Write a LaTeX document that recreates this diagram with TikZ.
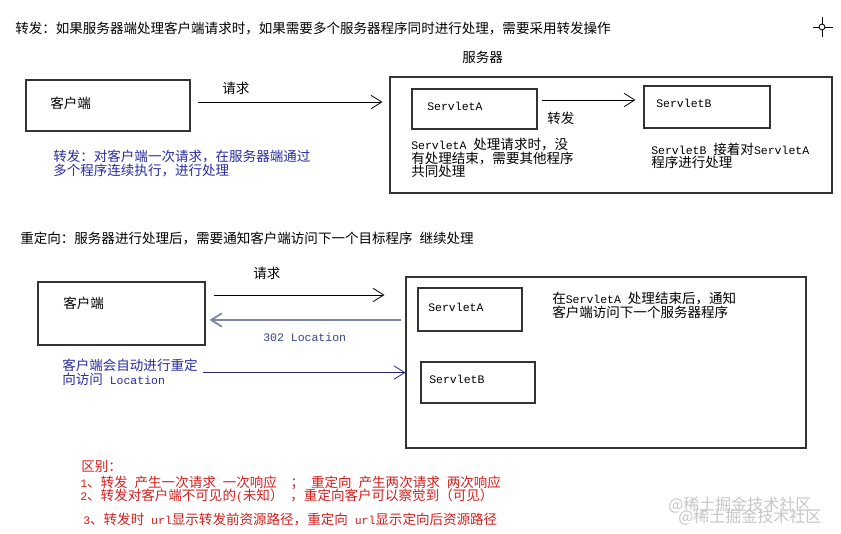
\documentclass[tikz,border=0pt]{standalone}
\usepackage{fontspec}
\setmainfont{Noto Sans CJK SC}
\newfontfamily\monofont[Scale=0.85]{Liberation Mono}
\newcommand{\mtxt}[1]{{\monofont #1}}
\usetikzlibrary{arrows.meta,positioning}
\definecolor{noteblue}{RGB}{40,45,160}
\definecolor{locblue}{RGB}{50,70,130}
\definecolor{backgray}{RGB}{125,135,165}
\definecolor{redirnavy}{RGB}{40,40,120}
\definecolor{diffred}{RGB}{215,30,30}

\begin{document}
\begin{tikzpicture}[
    x=0.75pt, y=-0.75pt,
    every node/.style={font=\fontsize{10.15pt}{10.5pt}\selectfont, inner sep=0pt},
    box/.style n args={2}{draw=black!80, line width=0.8pt, fill=white, minimum width=#1*0.75pt, minimum height=#2*0.75pt},
    txt/.style={anchor=west},
    para/.style={anchor=north west, align=left},
    note/.style={para, text=noteblue},
    diff/.style={txt, text=diffred},
    watermark/.style={txt, text=black!22, font=\fontsize{12pt}{14pt}\selectfont},
    flow/.style={-{Straight Barb[length=8pt,width=10pt]}, line width=0.6pt},
    back/.style={flow, draw=backgray, line width=1.3pt},
    redir/.style={flow, draw=redirnavy}
]
\path[use as bounding box, fill=white] (0,0) rectangle (841,534);

\node[txt] (title1) at (15,28) {转发：如果服务器端处理客户端请求时，如果需要多个服务器程序同时进行处理，需要采用转发操作};
\draw[line width=0.6pt] (813,27) -- (833,27) (822,17) -- (822,37);
\draw[line width=0.6pt, fill=white] (822,27) circle (2.2pt);

\node[box={164}{51}] (client1) at (108,105.5) {};
\node[txt] (client1lbl) at (50,103) {客户端};
\node[txt] (server1lbl) at (462,57) {服务器};
\node[box={442}{116}] (server1) at (611,135) {};
\node[box={125}{40}] (srvA1) at (474.5,109) {};
\node[txt] (srvA1lbl) at (427,106) {\mtxt{ServletA}};
\node[box={126}{42}] (srvB1) at (707,107) {};
\node[txt] (srvB1lbl) at (656,103) {\mtxt{ServletB}};
\node[para, font=\fontsize{10.15pt}{10.2pt}\selectfont] (srvA1note) at (411,138) {\mtxt{ServletA }处理请求时，没\\有处理结束，需要其他程序\\共同处理};
\node[para, font=\fontsize{10.15pt}{9.75pt}\selectfont] (srvB1note) at (651,143) {\mtxt{ServletB }接着对\mtxt{ServletA}\\程序进行处理};
\node[note] (fwdnote) at (53,150) {转发：对客户端一次请求，在服务器端通过\\多个程序连续执行，进行处理};

\coordinate (req1s) at ([yshift=2.6pt]client1.east);
\draw[flow, shorten <=5.25pt, shorten >=5.25pt] (req1s) -- (req1s -| server1.west);
\node[txt] (req1lbl) at (222,88) {请求};
\coordinate (fwds) at ([yshift=6.75pt]srvA1.east);
\draw[flow, shorten <=3pt, shorten >=6pt] (fwds) -- (fwds -| srvB1.west);
\node[txt] (fwdlbl) at (547,118) {转发};

\node[txt] (title2) at (20,238) {重定向：服务器进行处理后，需要通知客户端访问下一个目标程序\mtxt{ }继续处理};
\node[box={167}{63}] (client2) at (121.5,313.5) {};
\node[txt] (client2lbl) at (63,303) {客户端};
\node[box={400}{171}] (server2) at (606,362.5) {};
\node[box={104}{43}] (srvA2) at (470,309.5) {};
\node[txt] (srvA2lbl) at (428,307) {\mtxt{ServletA}};
\node[box={114}{41}] (srvB2) at (478,382.5) {};
\node[txt] (srvB2lbl) at (429,379) {\mtxt{ServletB}};
\node[para] (srvA2note) at (552,292) {在\mtxt{ServletA }处理结束后，通知\\客户端访问下一个服务器程序};

\coordinate (req2s) at ([yshift=13.9pt]client2.east);
\draw[flow, shorten <=6pt, shorten >=15.75pt] (req2s) -- (req2s -| server2.west);
\node[txt] (req2lbl) at (253,273) {请求};
\coordinate (back2s) at ([yshift=31.9pt]server2.west);
\draw[back, shorten <=3pt, shorten >=3pt] (back2s) -- (back2s -| client2.east);
\node[txt, text=locblue] (loclbl) at (263,337) {\mtxt{302 Location}};
\node[note] (redirnote) at (62,359) {客户端会自动进行重定\\向访问\mtxt{ Location}};
\draw[redir, shorten <=3.75pt] (redirnote.east) -- (redirnote.east -| server2.west);

\node[diff] (diffhead) at (81,467) {区别：};
\node[diff] (diff1) at (80,483) {\mtxt{1}、转发\mtxt{ }产生一次请求\mtxt{ }一次响应\mtxt{\ \ }；\mtxt{\ }重定向\mtxt{ }产生两次请求\mtxt{ }两次响应};
\node[diff] (diff2) at (80,496) {\mtxt{2}、转发对客户端不可见的\mtxt{(}未知）\mtxt{ }，重定向客户可以察觉到（可见）};
\node[diff] (diff3) at (83,519) {\mtxt{3}、转发时\mtxt{ url}显示转发前资源路径，重定向\mtxt{ url}显示定向后资源路径};

\node[watermark] (mark1) at (668,505) {@稀土掘金技术社区};
\node[watermark] (mark2) at (678,517) {@稀土掘金技术社区};
\end{tikzpicture}
\end{document}
